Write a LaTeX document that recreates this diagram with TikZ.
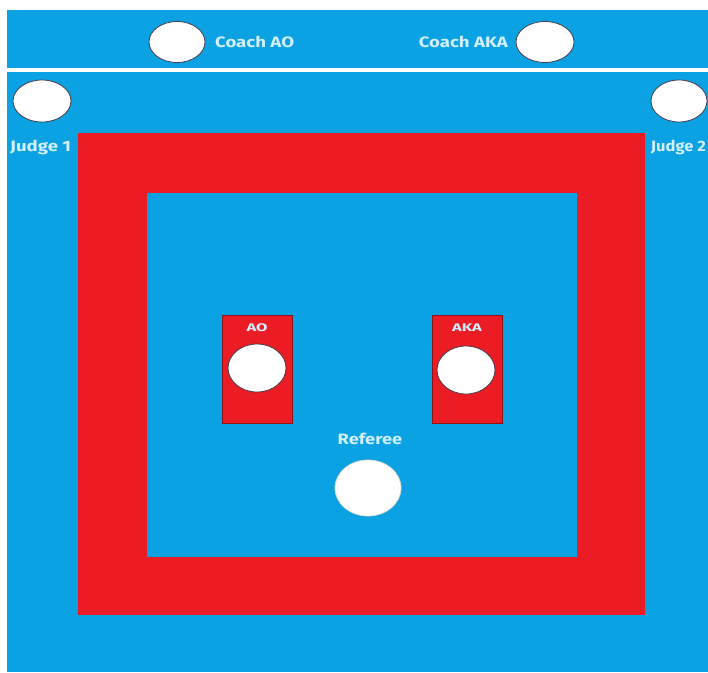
\documentclass[tikz,border=0pt]{standalone}
\usepackage{fontspec}
\setmainfont{Fira Sans}
\usetikzlibrary{shapes.geometric}
\definecolor{matblue}{HTML}{0AA2E2}
\definecolor{matred}{HTML}{EC1C24}
\definecolor{lbl}{HTML}{D2F0FF}
\definecolor{rim}{HTML}{4A3A4A}
\newcommand{\wide}[2]{\scalebox{#1}[1]{#2}}
\tikzset{
  seat/.style={ellipse, fill=white, draw=rim, line width=0.8pt, inner sep=0pt},
  lab/.style={text=lbl, font=\bfseries\fontsize{15}{15}\selectfont, inner sep=0pt},
  smalllab/.style={text=lbl, font=\bfseries\fontsize{11}{11}\selectfont, inner sep=0pt},
  zone/.style={fill=#1, draw=none}
}
\begin{document}
\begin{tikzpicture}[x=1pt,y=-1pt]
\useasboundingbox (0,0) rectangle (708,672);
\fill[white] (0,0) rectangle (708,672);
% top coach bar and main floor
\fill[zone=matblue] (7,10) rectangle (708,68);
\fill[zone=matblue] (7,72) rectangle (708,672);
% red square and inner area
\fill[zone=matred] (78,133) rectangle (645,615);
\fill[zone=matblue] (147,193) rectangle (577,557);
% competitor boxes
\node[zone=matred, draw=matred!60!black, line width=0.4pt, minimum width=70, minimum height=108, inner sep=0pt] (aobox) at (257,369) {};
\node[zone=matred, draw=matred!60!black, line width=0.4pt, minimum width=70, minimum height=108, inner sep=0pt] (akabox) at (467,369) {};
% seats
\node[seat, minimum width=56, minimum height=41] (coachao) at (177,42) {};
\node[seat, minimum width=58, minimum height=41] (coachaka) at (545,42) {};
\node[seat, minimum width=58, minimum height=42] (judge1) at (42,101) {};
\node[seat, minimum width=56, minimum height=42] (judge2) at (679,101) {};
\node[seat, minimum width=58, minimum height=48] (ao) at (257,368) {};
\node[seat, minimum width=58, minimum height=48] (aka) at (466,370) {};
\node[seat, minimum width=66, minimum height=56, draw=white!85!black] (referee) at (368,488) {};
% labels
\node[lab, anchor=west] (lcoachao) at (215,42) {\wide{1.24}{Coach AO}};
\node[lab, anchor=east] (lcoachaka) at (508,42) {\wide{1.24}{Coach AKA}};
\node[lab, anchor=west] (ljudge1) at (10,147) {\wide{1.24}{Judge 1}};
\node[lab, anchor=east] (ljudge2) at (706,147) {\wide{1.1}{Judge 2}};
\node[smalllab] (lao) at (257,328) {\wide{1.5}{AO}};
\node[smalllab] (laka) at (467,328) {\wide{1.5}{AKA}};
\node[lab] (lreferee) at (370,439) {\wide{1.22}{Referee}};
\end{tikzpicture}
\end{document}
